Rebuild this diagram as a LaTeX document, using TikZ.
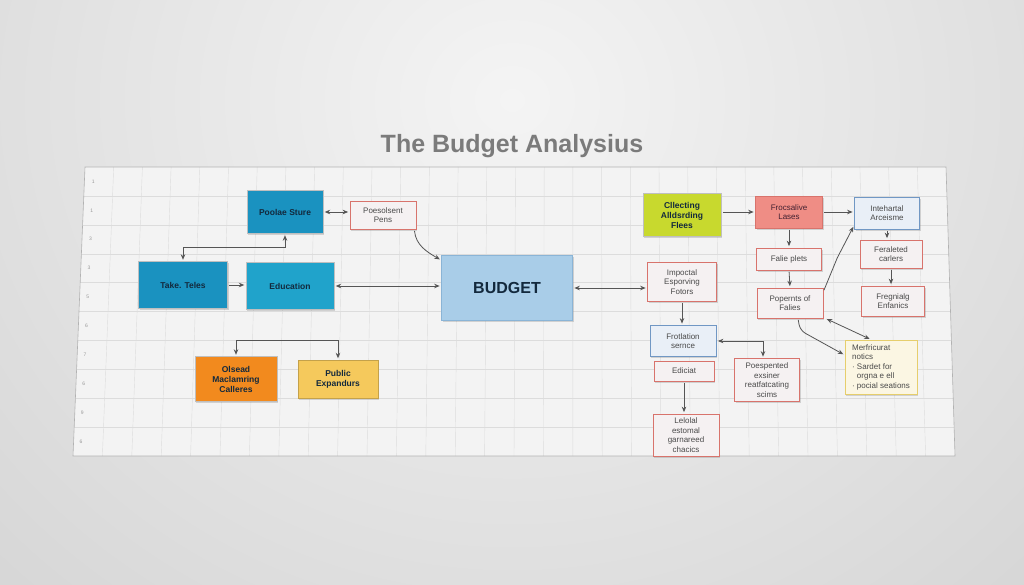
\documentclass[tikz,border=0pt]{standalone}
\usepackage{fontspec}
\setsansfont{Liberation Sans}
\usetikzlibrary{arrows.meta,shadows}
\definecolor{bgout}{HTML}{C4C4C4}
\definecolor{bgin}{HTML}{F4F4F4}
\definecolor{boardfill}{HTML}{F3F3F3}
\definecolor{gridc}{HTML}{DCDCDC}
\definecolor{tealA}{HTML}{1A92C0}
\definecolor{tealB}{HTML}{20A3CB}
\definecolor{navytxt}{HTML}{13293D}
\definecolor{budgetc}{HTML}{A9CDE8}
\definecolor{budgetb}{HTML}{8AB4D6}
\definecolor{orangec}{HTML}{F28A1E}
\definecolor{goldc}{HTML}{F5C95C}
\definecolor{limec}{HTML}{C8D92E}
\definecolor{salmonc}{HTML}{EF8D85}
\definecolor{redb}{HTML}{D8736C}
\definecolor{palefill}{HTML}{F5F1F2}
\definecolor{steelb}{HTML}{7097C4}
\definecolor{palebl}{HTML}{E9EFF7}
\definecolor{cream}{HTML}{FBF6E3}
\definecolor{creamb}{HTML}{E6CE6C}
\definecolor{linec}{HTML}{555555}
\definecolor{titlec}{HTML}{7B7B7B}
\definecolor{paletxt}{HTML}{4A4A4A}

\begin{document}
\begin{tikzpicture}[x=1pt,y=-1pt,
  box/.style={rectangle, align=center, inner sep=1pt, font=\sffamily\fontsize{8}{9.5}\selectfont,
    drop shadow={shadow xshift=1pt, shadow yshift=-1.8pt, opacity=0.3}},
  solid box/.style={box, draw=black!25, line width=0.4pt, text=navytxt, font=\sffamily\bfseries\fontsize{8.5}{10}\selectfont},
  pale box/.style={box, draw=redb, line width=0.7pt, fill=palefill, text=paletxt},
  blue box/.style={box, draw=steelb, line width=0.8pt, fill=palebl, text=paletxt},
  link/.style={draw=linec, line width=0.8pt, shorten >=1.5pt, shorten <=1.5pt},
  >={Stealth[length=5.5pt,width=4.5pt]}]
\useasboundingbox (0,0) rectangle (1024,585);

% wall and board
\fill[bgout] (0,0) rectangle (1024,585);
\begin{scope}
  \clip (0,0) rectangle (1024,585);
  \shade[inner color=bgin, outer color=bgout] (512,100) ellipse [x radius=1200, y radius=1100];
\end{scope}
\fill[boardfill] (85,167) -- (946,167) -- (955,456) -- (73,456) -- cycle;
\begin{scope}
  \clip (85,167) -- (946,167) -- (955,456) -- (73,456) -- cycle;
  \foreach \i in {1,...,29}
    \draw[gridc, line width=0.4pt] (85+\i*28.7,167) -- (73+\i*29.4,456);
  \foreach \j in {1,...,9}
    \draw[gridc, line width=0.4pt] (60,167+\j*28.9) -- (970,167+\j*28.9);
\end{scope}
\draw[black!30, line width=0.6pt] (85,167) -- (946,167) -- (955,456) -- (73,456) -- cycle;
\foreach \n [count=\j] in {1,1,3,3,5,6,7,6,9,6}
  \node[font=\sffamily\fontsize{5}{6}\selectfont, text=black!40] at (94.5-\j*1.35,167+\j*28.9-14.5) {\n};

\node[font=\sffamily\bfseries\fontsize{25}{28}\selectfont, text=titlec] (title) at (512,146) {The Budget Analysius};

% left group
\node[solid box, fill=tealA, minimum width=76, minimum height=43] (poolae) at (285,212) {Poolae Sture};
\node[pale box, minimum width=66, minimum height=28] (poesol) at (383,215) {Poesolsent\\Pens};
\node[solid box, fill=tealA, minimum width=89, minimum height=47] (take) at (183,285) {Take. Teles};
\node[solid box, fill=tealB, minimum width=88, minimum height=47] (edu) at (290,286) {Education};
\node[box, draw=budgetb, line width=0.7pt, fill=budgetc, text=navytxt, minimum width=131, minimum height=65,
  font=\sffamily\bfseries\fontsize{16}{18}\selectfont] (budget) at (507,288) {BUDGET};
\node[solid box, fill=orangec, minimum width=82, minimum height=45] (olsead) at (236,379) {Olsead\\Maclamring\\Calleres};
\node[solid box, fill=goldc, draw=goldc!80!black, minimum width=80, minimum height=38] (public) at (338,379) {Public\\Expandurs};

% right group
\node[solid box, fill=limec, minimum width=78, minimum height=43] (cllect) at (682,215) {Cllecting\\Alldsrding\\Flees};
\node[box, draw=redb, line width=0.7pt, fill=salmonc, text=navytxt!80!red, minimum width=67, minimum height=32] (froc) at (789,212) {Frocsalive\\Lases};
\node[blue box, minimum width=65, minimum height=32] (inteh) at (887,213) {Intehartal\\Arceisme};
\node[pale box, minimum width=65, minimum height=22] (falie) at (789,259) {Falie plets};
\node[pale box, minimum width=62, minimum height=28] (ferale) at (891,254) {Feraleted\\carlers};
\node[pale box, minimum width=66, minimum height=30] (popern) at (790,303) {Popernts of\\Falies};
\node[pale box, minimum width=63, minimum height=30] (fregni) at (893,301) {Fregnialg\\Enfanics};
\node[pale box, minimum width=69, minimum height=39] (impoc) at (682,282) {Impoctal\\Esporving\\Fotors};
\node[blue box, minimum width=66, minimum height=31] (frotl) at (683,341) {Frotlation\\sernce};
\node[pale box, minimum width=60, minimum height=20] (edic) at (684,371) {Ediciat};
\node[pale box, minimum width=65, minimum height=43] (poesp) at (767,380) {Poespented\\exsiner\\reatfatcating\\scims};
\node[pale box, minimum width=66, minimum height=42] (lelol) at (686,435) {Lelolal\\estomal\\garnareed\\chacics};
\node[box, draw=creamb, line width=0.8pt, fill=cream, text=paletxt, align=left, minimum width=72, minimum height=54] (merfr) at (881,367)
  {Merfricurat\\notics\\· Sardet for\\\phantom{· }orgna e ell\\· pocial seations};

% connectors
\draw[link, <->] (poolae.east) -- (poolae.east -| poesol.west);
\draw[link, ->] ([xshift=-2pt]poesol.south east) to[out=-85, in=150] ([yshift=-5pt]budget.north west);
\draw[link, <->] (take.north) -- ++(0,-14) -| (poolae.south);
\draw[link, ->] (take.east) -- (take.east -| edu.west);
\draw[link, <->] (edu.east) -- (edu.east -| budget.west);
\draw[link, <->] (olsead.north) -- ++(0,-16) -| (public.north);
\draw[link, <->] (budget.east) -- (budget.east -| impoc.west);
\draw[link, ->] (froc.west -| cllect.east) -- (froc.west);
\draw[link, ->] (froc.east) -- (froc.east -| inteh.west);
\draw[link, ->] (froc.south) -- (falie.north);
\draw[link, ->] (falie.south) -- (popern.north);
\draw[link, ->] ([yshift=-4pt]popern.north east) -- ++(14,-34) -- ([yshift=4pt]inteh.south west);
\draw[link, ->] (inteh.south) -- (inteh.south |- ferale.north);
\draw[link, ->] (ferale.south) -- (ferale.south |- fregni.north);
\draw[link, <->] ([xshift=2pt]popern.south east) -- ([xshift=-10pt]merfr.north);
\draw[link, ->, rounded corners=6pt] ([xshift=8pt]popern.south) -- ++(2,12) -- ([yshift=12pt]merfr.west);
\draw[link, ->] (impoc.south) -- (impoc.south |- frotl.north);
\draw[link, <->] (frotl.east) -| ([xshift=-4pt]poesp.north);
\draw[link, ->] (edic.south) -- (edic.south |- lelol.north);
\end{tikzpicture}
\end{document}
